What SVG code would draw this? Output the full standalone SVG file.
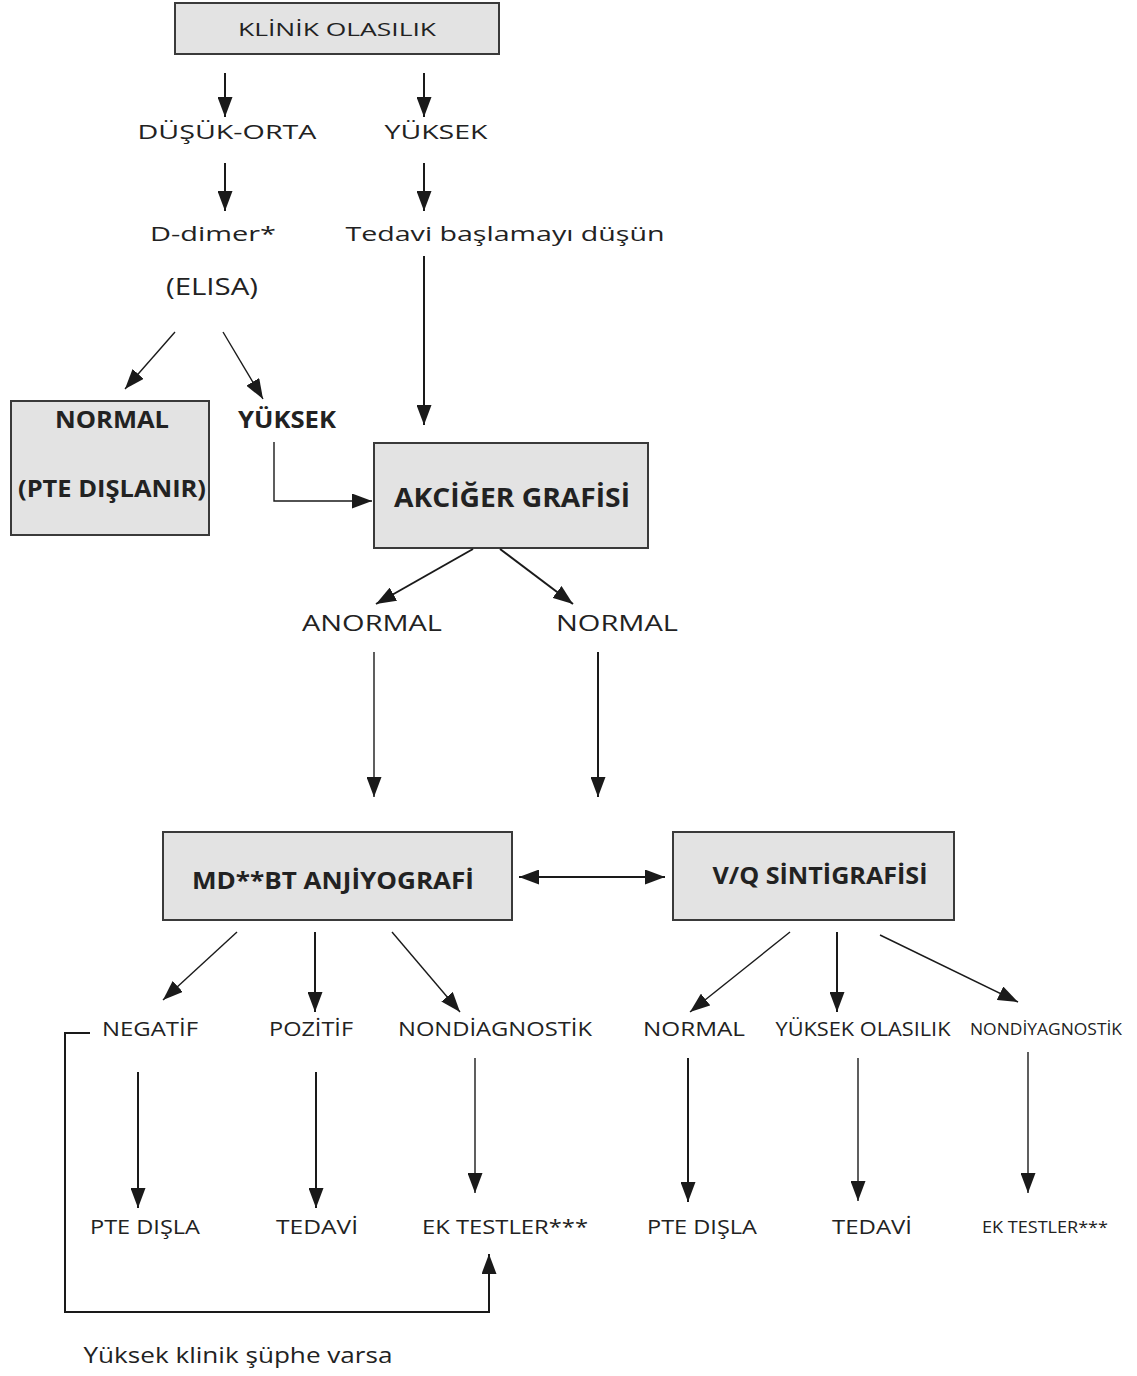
<svg xmlns="http://www.w3.org/2000/svg" width="1137" height="1376" viewBox="0 0 1137 1376">
<defs>
<marker id="ah" markerUnits="userSpaceOnUse" markerWidth="20" markerHeight="15" refX="20" refY="7.5" orient="auto-start-reverse" viewBox="0 0 20 15">
<path d="M0,0 L20,7.5 L0,15 z" fill="#1a1a1a"/>
</marker>
</defs>
<style>
.box{fill:#e3e3e3;stroke:#3a3a3a;stroke-width:2}
.t{font-family:"Open Sans","Noto Sans","Liberation Sans",sans-serif;fill:#222;text-anchor:middle}
.b{font-weight:bold}
.c{stroke:#1a1a1a;stroke-width:2;fill:none}
.thin{stroke-width:1.4}
.a{marker-end:url(#ah)}
</style>
<rect width="1137" height="1376" fill="#ffffff"/>

<g id="klinik">
<rect class="box" x="175" y="3" width="324" height="51"/>
<text class="t" x="337" y="36" font-size="18" textLength="198" lengthAdjust="spacingAndGlyphs">KLİNİK OLASILIK</text>
</g>
<g id="dusuk"><text class="t" x="227" y="139" font-size="20" textLength="179" lengthAdjust="spacingAndGlyphs">DÜŞÜK-ORTA</text></g>
<g id="yuksek1"><text class="t" x="436" y="139" font-size="20" textLength="103" lengthAdjust="spacingAndGlyphs">YÜKSEK</text></g>
<g id="ddimer"><text class="t" x="213" y="241" font-size="20" textLength="126" lengthAdjust="spacingAndGlyphs">D-dimer*</text>
<text class="t" x="212" y="295" font-size="24" textLength="92" lengthAdjust="spacingAndGlyphs">(ELISA)</text></g>
<g id="tedavi-bas"><text class="t" x="505" y="241" font-size="20" textLength="319" lengthAdjust="spacingAndGlyphs">Tedavi başlamayı düşün</text></g>
<g id="normal-box">
<rect class="box" x="11" y="401" width="198" height="134"/>
<text class="t b" x="112" y="428" font-size="23" textLength="114" lengthAdjust="spacingAndGlyphs">NORMAL</text>
<text class="t b" x="112" y="497" font-size="23" textLength="188" lengthAdjust="spacingAndGlyphs">(PTE DIŞLANIR)</text>
</g>
<g id="yuksek2"><text class="t b" x="287" y="428" font-size="23" textLength="98" lengthAdjust="spacingAndGlyphs">YÜKSEK</text></g>
<g id="akciger">
<rect class="box" x="374" y="443" width="274" height="105"/>
<text class="t b" x="512" y="507" font-size="26" textLength="236" lengthAdjust="spacingAndGlyphs">AKCİĞER GRAFİSİ</text>
</g>
<g id="anormal"><text class="t" x="372" y="631" font-size="22" textLength="140" lengthAdjust="spacingAndGlyphs">ANORMAL</text></g>
<g id="normal2"><text class="t" x="617" y="631" font-size="22" textLength="122" lengthAdjust="spacingAndGlyphs">NORMAL</text></g>
<g id="mdbt">
<rect class="box" x="163" y="832" width="349" height="88"/>
<text class="t b" x="333" y="889" font-size="23" textLength="282" lengthAdjust="spacingAndGlyphs">MD**BT ANJİYOGRAFİ</text>
</g>
<g id="vq">
<rect class="box" x="673" y="832" width="281" height="88"/>
<text class="t b" x="820" y="884" font-size="23" textLength="215" lengthAdjust="spacingAndGlyphs">V/Q SİNTİGRAFİSİ</text>
</g>
<g id="negatif"><text class="t" x="150" y="1036" font-size="20" textLength="96" lengthAdjust="spacingAndGlyphs">NEGATİF</text></g>
<g id="pozitif"><text class="t" x="311" y="1036" font-size="20" textLength="84" lengthAdjust="spacingAndGlyphs">POZİTİF</text></g>
<g id="nondiag"><text class="t" x="495" y="1036" font-size="20" textLength="194" lengthAdjust="spacingAndGlyphs">NONDİAGNOSTİK</text></g>
<g id="normal3"><text class="t" x="694" y="1036" font-size="20" textLength="102" lengthAdjust="spacingAndGlyphs">NORMAL</text></g>
<g id="yuksekol"><text class="t" x="863" y="1036" font-size="20" textLength="175" lengthAdjust="spacingAndGlyphs">YÜKSEK OLASILIK</text></g>
<g id="nondiy"><text class="t" x="1046" y="1035" font-size="17" textLength="152" lengthAdjust="spacingAndGlyphs">NONDİYAGNOSTİK</text></g>
<g id="pte1"><text class="t" x="145" y="1234" font-size="20" textLength="110" lengthAdjust="spacingAndGlyphs">PTE DIŞLA</text></g>
<g id="tedavi1"><text class="t" x="317" y="1234" font-size="20" textLength="82" lengthAdjust="spacingAndGlyphs">TEDAVİ</text></g>
<g id="ek1"><text class="t" x="505" y="1234" font-size="20" textLength="166" lengthAdjust="spacingAndGlyphs">EK TESTLER***</text></g>
<g id="pte2"><text class="t" x="702" y="1234" font-size="20" textLength="110" lengthAdjust="spacingAndGlyphs">PTE DIŞLA</text></g>
<g id="tedavi2"><text class="t" x="872" y="1234" font-size="20" textLength="80" lengthAdjust="spacingAndGlyphs">TEDAVİ</text></g>
<g id="ek2"><text class="t" x="1045" y="1233" font-size="17" textLength="126" lengthAdjust="spacingAndGlyphs">EK TESTLER***</text></g>
<g id="yuksek-klinik"><text class="t" x="238" y="1363" font-size="21" textLength="309" lengthAdjust="spacingAndGlyphs">Yüksek klinik şüphe varsa</text></g>

<g id="connectors">
<line class="c a" x1="225" y1="73" x2="225" y2="117"/>
<line class="c a" x1="424" y1="73" x2="424" y2="117"/>
<line class="c a" x1="225" y1="163" x2="225" y2="211"/>
<line class="c a" x1="424" y1="163" x2="424" y2="211"/>
<line class="c a" x1="424" y1="256" x2="424" y2="425"/>
<line class="c thin a" x1="175" y1="332" x2="125" y2="389"/>
<line class="c thin a" x1="223" y1="332" x2="263" y2="399"/>
<polyline class="c thin a" points="274,442 274,501 372,501"/>
<line class="c a" x1="473" y1="549" x2="376" y2="604"/>
<line class="c a" x1="500" y1="549" x2="573" y2="604"/>
<line class="c thin a" x1="374" y1="652" x2="374" y2="797"/>
<line class="c a" x1="598" y1="652" x2="598" y2="797"/>
<line class="c" x1="519" y1="877" x2="665" y2="877" stroke-width="2.5" marker-start="url(#ah)" marker-end="url(#ah)"/>
<line class="c thin a" x1="237" y1="932" x2="163" y2="1000"/>
<line class="c a" x1="315" y1="932" x2="315" y2="1012"/>
<line class="c thin a" x1="392" y1="932" x2="460" y2="1012"/>
<line class="c thin a" x1="790" y1="932" x2="690" y2="1012"/>
<line class="c a" x1="837" y1="932" x2="837" y2="1012"/>
<line class="c thin a" x1="880" y1="935" x2="1018" y2="1002"/>
<line class="c a" x1="138" y1="1072" x2="138" y2="1208"/>
<line class="c a" x1="316" y1="1072" x2="316" y2="1208"/>
<line class="c thin a" x1="475" y1="1058" x2="475" y2="1193"/>
<line class="c a" x1="688" y1="1058" x2="688" y2="1202"/>
<line class="c thin a" x1="858" y1="1058" x2="858" y2="1201"/>
<line class="c thin a" x1="1028" y1="1052" x2="1028" y2="1193"/>
<polyline class="c a" points="90,1033 65,1033 65,1312 489,1312 489,1254"/>
</g>
</svg>
